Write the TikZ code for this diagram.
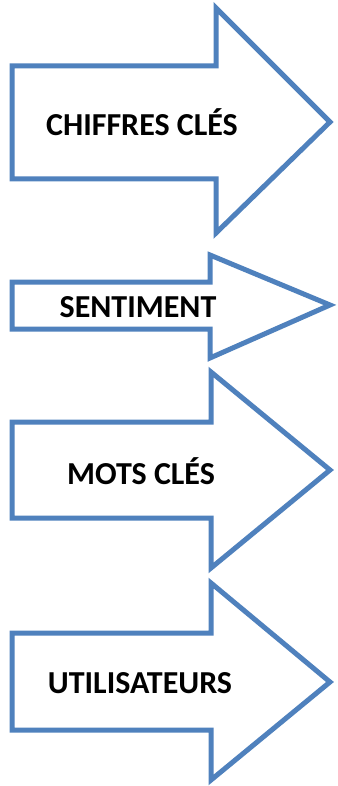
\documentclass[tikz,border=0pt]{standalone}
\usepackage{fontspec}
\setmainfont{Carlito}
\definecolor{arrowblue}{HTML}{4F81BD}
\tikzset{
  bigarrow/.style={draw=arrowblue, line width=5pt, fill=white, line join=miter},
  lbl/.style={font=\fontsize{32}{36}\selectfont\bfseries, text=black, inner sep=0pt}
}
\begin{document}
\begin{tikzpicture}[x=1pt,y=-1pt]
\useasboundingbox (0,0) rectangle (337,786);
% arrow 1
\draw[bigarrow] (12,66) -- (216,66) -- (216,8) -- (330,122) -- (216,233) -- (216,179) -- (12,179) -- cycle;
\node[lbl] (a1) at (142,122) {CHIFFRES CLÉS};
% arrow 2
\draw[bigarrow] (12,282) -- (210,282) -- (210,255) -- (330,305) -- (210,358) -- (210,329) -- (12,329) -- cycle;
\node[lbl] (a2) at (138,307) {SENTIMENT};
% arrow 3
\draw[bigarrow] (12,422) -- (211,422) -- (211,372) -- (330,470) -- (211,568) -- (211,518) -- (12,518) -- cycle;
\node[lbl] (a3) at (141,471) {MOTS CLÉS};
% arrow 4
\draw[bigarrow] (12,633) -- (211,633) -- (211,583) -- (330,682) -- (211,780) -- (211,730) -- (12,730) -- cycle;
\node[lbl] (a4) at (140,683) {UTILISATEURS};
\end{tikzpicture}
\end{document}
